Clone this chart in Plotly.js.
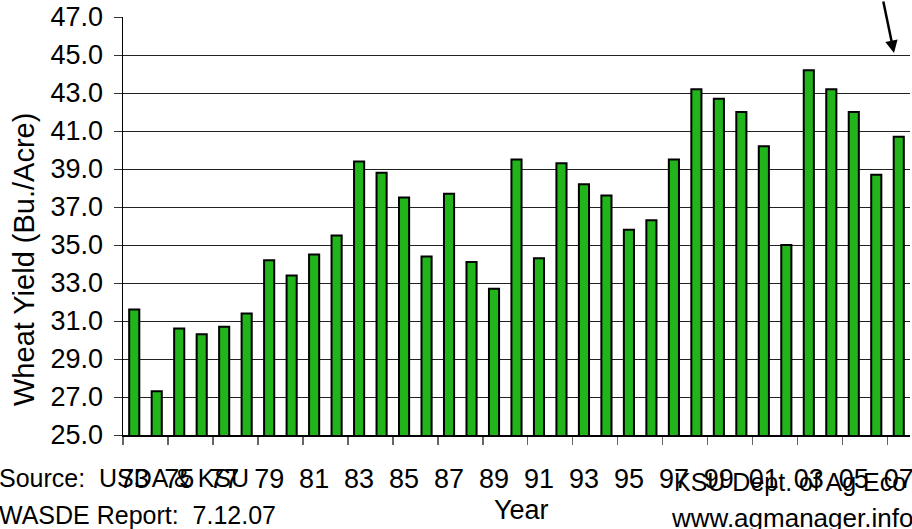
<!DOCTYPE html>
<html>
<head>
<meta charset="utf-8">
<script src="https://cdn.plot.ly/plotly-3.0.1.min.js"></script>
<style>
  html, body { margin: 0; padding: 0; background: #fff; }
  #chart { width: 912px; height: 529px; }
</style>
</head>
<body>
<div id="chart"></div>
<script>
// ---- data ----
const years = ['73','74','75','76','77','78','79','80','81','82','83','84','85','86','87','88','89','90','91','92','93','94','95','96','97','98','99','00','01','02','03','04','05','06','07'];
const yields = [31.6,27.3,30.6,30.3,30.7,31.4,34.2,33.4,34.5,35.5,39.4,38.8,37.5,34.4,37.7,34.1,32.7,39.5,34.3,39.3,38.2,37.6,35.8,36.3,39.5,43.2,42.7,42.0,40.2,35.0,44.2,43.2,42.0,38.7,40.7];
const yTitle = 'Wheat Yield (Bu./Acre)';
const xTitle = 'Year';
const sourceLines = ['Source:  USDA & KSU', 'WASDE Report:  7.12.07'];
const creditLines = ['KSU Dept. of Ag Eco', 'www.agmanager.info'];

const FONT = 'Liberation Sans, Arial, sans-serif';
const L = 123, R = 2, T = 17, B = 94, W = 912, H = 529;
const PW = W - L - R, PH = H - T - B;
const px = p => (p - L) / PW;
const py = p => (H - B - p) / PH;

const trace = {
  type: 'bar',
  x: years,
  y: yields,
  marker: { color: '#21b41b', line: { color: '#000', width: 2 } },
  hoverinfo: 'x+y'
};

const txt = (text, x, y, xanchor, size, extra) => Object.assign({
  text: text, xref: 'paper', yref: 'paper', x: x, y: y,
  xanchor: xanchor, yanchor: 'middle', showarrow: false,
  font: { family: FONT, size: size, color: '#000' }
}, extra || {});

const layout = {
  width: W, height: H,
  margin: { l: L, r: R, t: T, b: B, pad: 0 },
  paper_bgcolor: '#fff', plot_bgcolor: '#fff',
  showlegend: false,
  bargap: 0.55,
  xaxis: {
    type: 'category',
    tickmode: 'linear', tick0: 0, dtick: 2,
    tickson: 'boundaries',
    tickangle: 0,
    ticks: 'outside', ticklen: 8, tickcolor: '#666', tickwidth: 1.5,
    showgrid: false, zeroline: false,
    showline: true, linecolor: '#000', linewidth: 1.5,
    tickfont: { family: FONT, size: 27, color: '#000' },
    ticklabelstandoff: 19
  },
  xaxis2: {
    type: 'category', overlaying: 'x', matches: 'x', anchor: 'y',
    tickmode: 'linear', tick0: 0, dtick: 2, tickson: 'boundaries',
    ticks: 'inside', ticklen: 8, tickcolor: '#666', tickwidth: 1.5,
    showticklabels: false, showgrid: false, zeroline: false, showline: false
  },
  yaxis: {
    range: [25, 47], dtick: 2, tick0: 25, tickformat: '.1f',
    ticks: 'outside', ticklen: 8, tickcolor: '#333',
    showgrid: true, gridcolor: '#222', gridwidth: 1,
    zeroline: false, showline: true, linecolor: '#000', linewidth: 1.5,
    tickfont: { family: FONT, size: 27, color: '#000' },
    ticklabelstandoff: 5
  },
  yaxis2: {
    overlaying: 'y', side: 'right', anchor: 'x', range: [25, 47],
    showline: true, linecolor: '#888', linewidth: 1.5,
    showgrid: false, zeroline: false, showticklabels: false, ticks: ''
  },
  annotations: [
    txt(yTitle, px(24), py(260), 'center', 29, { textangle: -90 }),
    txt(xTitle, px(521), py(510), 'center', 27),
    txt(sourceLines[0], px(-3), py(478), 'left', 25),
    txt(sourceLines[1], px(-3), py(515), 'left', 25),
    txt(creditLines[0], px(672), py(482), 'left', 25),
    txt(creditLines[1], px(669), py(518), 'left', 26),
    {
      text: '', xref: 'paper', yref: 'paper', x: px(894), y: py(53),
      showarrow: true, arrowhead: 2, arrowsize: 1, arrowwidth: 2.5,
      arrowcolor: '#000', ax: -11, ay: -70
    }
  ]
};

Plotly.newPlot('chart', [trace], layout, { displayModeBar: false, staticPlot: true });
</script>
</body>
</html>
